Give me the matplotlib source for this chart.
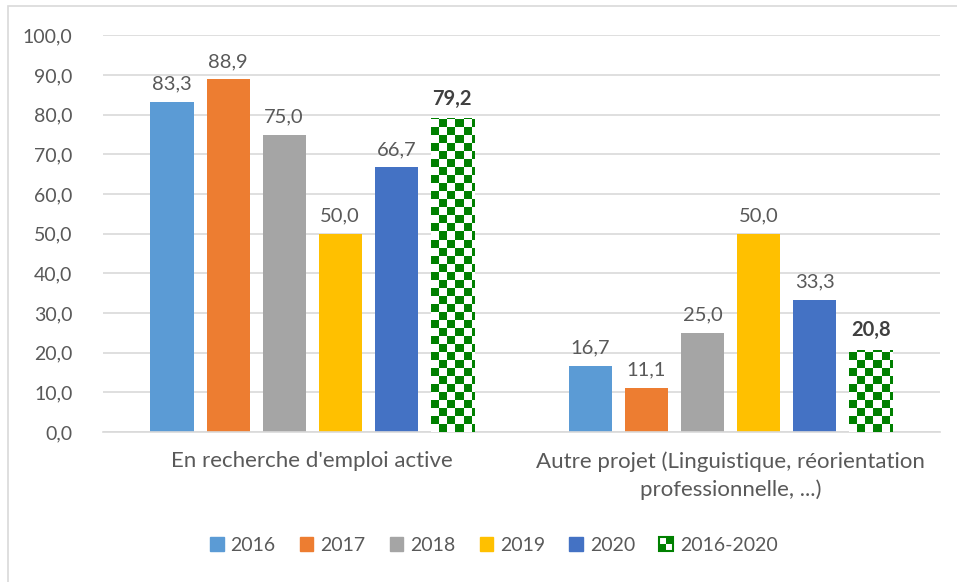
import numpy as np
import matplotlib
matplotlib.use("Agg")
import matplotlib.pyplot as plt
from matplotlib.patches import Rectangle
from matplotlib.legend_handler import HandlerBase

plt.rcParams["font.family"] = ["Lato", "DejaVu Sans"]

# data
categories = ["En recherche d'emploi active",
              "Autre projet (Linguistique, réorientation\nprofessionnelle, ...)"]
series = ["2016", "2017", "2018", "2019", "2020", "2016-2020"]
values = {
    "2016": [83.3, 16.7],
    "2017": [88.9, 11.1],
    "2018": [75.0, 25.0],
    "2019": [50.0, 50.0],
    "2020": [66.7, 33.3],
    "2016-2020": [79.2, 20.8],
}
colors = ["#5B9BD5", "#ED7D31", "#A5A5A5", "#FFC000", "#4472C4", "#008000"]
yticks = np.arange(0, 101, 10)

text_col = "#595959"
green = "#008000"

fig = plt.figure(figsize=(9.57, 5.82), dpi=100)
ax = fig.add_axes([0.1076, 0.2577, 0.8744, 0.6816])

# frame around the chart
fig.patches.append(Rectangle((8 / 957, -0.05), 1.1, 1.05 - 6 / 582,
                             transform=fig.transFigure, fill=False,
                             edgecolor="#D9D9D9", linewidth=1.2))

x = np.arange(len(categories))
width = 0.103
step = 0.134
offsets = (np.arange(len(series)) - (len(series) - 1) / 2) * step

ax.set_xlim(-0.5, 1.5)
ax.set_ylim(0, 100)

checker_bars = []
for i, s in enumerate(series):
    vals = values[s]
    if s == "2016-2020":
        bars = ax.bar(x + offsets[i], vals, width, color="white", zorder=2)
        checker_bars.extend(bars)
        for b, v in zip(bars, vals):
            ax.text(b.get_x() + b.get_width() / 2, v + 2.3, f"{v:.1f}".replace(".", ","),
                    ha="center", va="bottom", fontsize=14.5, fontweight="bold", color="#404040")
    else:
        bars = ax.bar(x + offsets[i], vals, width, color=colors[i], zorder=2)
        for b, v in zip(bars, vals):
            ax.text(b.get_x() + b.get_width() / 2, v + 2.3, f"{v:.1f}".replace(".", ","),
                    ha="center", va="bottom", fontsize=14.5, color=text_col)

# checkerboard fill for the 2016-2020 bars
fig.canvas.draw()
cell = 8.0
for b in checker_bars:
    x0, y0 = b.get_x(), b.get_y()
    x1, y1 = x0 + b.get_width(), y0 + b.get_height()
    p0 = ax.transData.transform((x0, y0))
    p1 = ax.transData.transform((x1, y1))
    nx = int(np.ceil((p1[0] - p0[0]) / cell))
    ny = int(np.ceil((p1[1] - p0[1]) / cell))
    grid = (np.add.outer(np.arange(ny), np.arange(nx)) % 2).astype(float)
    w_d = (x1 - x0) / ((p1[0] - p0[0]) / cell)
    h_d = (y1 - y0) / ((p1[1] - p0[1]) / cell)
    im = ax.imshow(grid, cmap=matplotlib.colors.ListedColormap(["white", green]),
                   extent=(x0, x0 + nx * w_d, y0, y0 + ny * h_d),
                   origin="lower", aspect="auto", interpolation="nearest", zorder=3)
    im.set_clip_path(b)
ax.set_xlim(-0.5, 1.5)
ax.set_ylim(0, 100)

ax.set_yticks(yticks)
ax.set_yticklabels([f"{t:.1f}".replace(".", ",") for t in yticks], fontsize=14)
ax.set_xticks(x)
ax.set_xticklabels(categories, linespacing=1.45, fontsize=16)
ax.tick_params(axis="both", length=0, colors=text_col)
ax.tick_params(axis="y", pad=22)
ax.tick_params(axis="x", pad=14)
ax.yaxis.grid(True, color="#D9D9D9", linewidth=1.2, zorder=0)
ax.set_axisbelow(True)
for sp in ["top", "right", "left"]:
    ax.spines[sp].set_visible(False)
ax.spines["bottom"].set_color("#D9D9D9")
ax.spines["bottom"].set_linewidth(1.2)


class CheckerHandler(HandlerBase):
    def create_artists(self, legend, orig_handle, xd, yd, width, height, fontsize, trans):
        arts = []
        n = 2
        w, h = width / n, height / n
        for r in range(n):
            for c in range(n):
                fc = green if (r + c) % 2 == 0 else "white"
                arts.append(Rectangle((-xd + c * w, -yd + r * h), w, h,
                                      facecolor=fc, edgecolor="none", transform=trans))
        arts.append(Rectangle((-xd, -yd), width, height, fill=False,
                              edgecolor=green, linewidth=1.5, transform=trans))
        return arts


handles = [Rectangle((0, 0), 1, 1, color=c) for c in colors[:-1]]
checker = Rectangle((0, 0), 1, 1, color=green)
handles.append(checker)
leg = fig.legend(handles, series, loc="center", bbox_to_anchor=(0.516, 0.063),
                 ncol=6, frameon=False, fontsize=14, handlelength=0.7,
                 handleheight=0.7, handletextpad=0.35, columnspacing=1.25,
                 handler_map={checker: CheckerHandler()})
for t in leg.get_texts():
    t.set_color(text_col)

fig.savefig("out.png", dpi=100)
